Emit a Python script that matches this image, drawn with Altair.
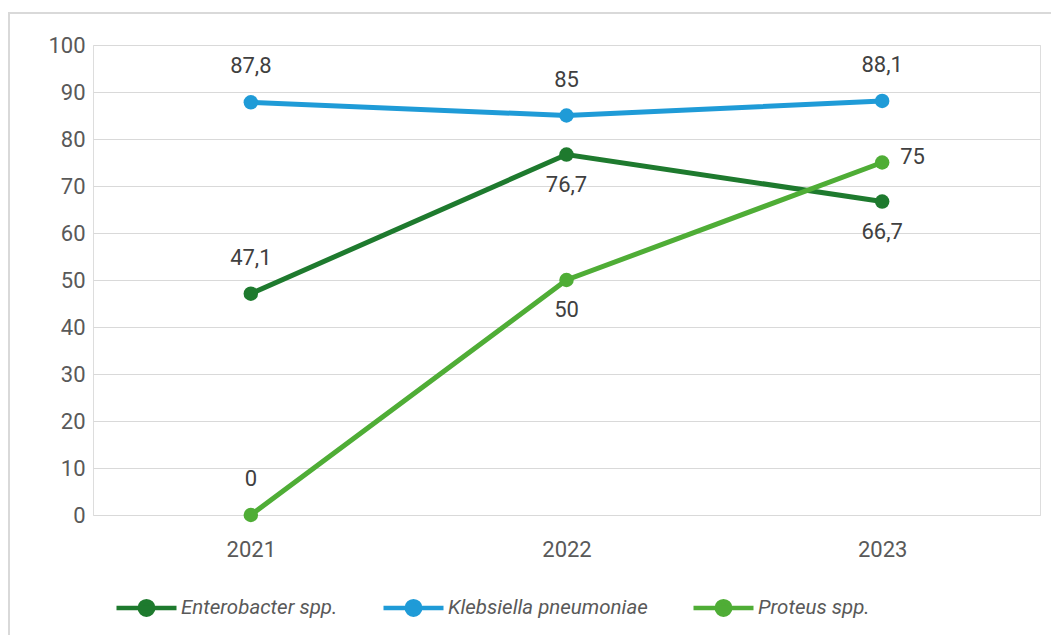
import altair as alt
import pandas as pd

years = ["2021", "2022", "2023"]
enterobacter = [47.1, 76.7, 66.7]
klebsiella = [87.8, 85.0, 88.1]
proteus = [0.0, 50.0, 75.0]
series_names = ["Enterobacter spp.", "Klebsiella pneumoniae", "Proteus spp."]
colors = ["#1e7a2e", "#1f9bd7", "#4fad36"]

# label placement (style, kept apart from the data)
placement = {
    "Enterobacter spp.": ["above", "below", "below"],
    "Klebsiella pneumoniae": ["above", "above", "above"],
    "Proteus spp.": ["above", "below", "right"],
}

rows = []
for name, vals in zip(series_names, [enterobacter, klebsiella, proteus]):
    for i, (yr, v) in enumerate(zip(years, vals)):
        lab = (f"{v:g}").replace(".", ",")
        rows.append({"year": yr, "series": name, "value": v, "label": lab,
                     "pos": placement[name][i]})
df = pd.DataFrame(rows)

FONT = "Roboto"
LEGFONT = "Liberation Sans Narrow, Roboto"
TXT = "#404040"
FS = 22

base = alt.Chart(df).encode(
    x=alt.X("year:N", title=None, sort=years,
            scale=alt.Scale(paddingInner=0, paddingOuter=0.5),
            axis=alt.Axis(labelAngle=0, domain=False, ticks=False, grid=False,
                          labelPadding=24, labelFontSize=FS, labelColor="#595959",
                          labelFont=FONT)),
    y=alt.Y("value:Q", title=None,
            scale=alt.Scale(domain=[0, 100], nice=False),
            axis=alt.Axis(values=list(range(0, 101, 10)), domain=False, ticks=False,
                          gridColor="#d9d9d9", gridWidth=1, labelPadding=8,
                          labelFontSize=FS, labelColor="#595959", labelFont=FONT)),
    color=alt.Color("series:N",
                    scale=alt.Scale(domain=series_names, range=colors),
                    legend=alt.Legend(title=None, orient="none", direction="horizontal",
                                      legendX=36, legendY=545,
                                      symbolType="M-2,0L2,0M0.45,0A0.45,0.45,0,1,1,-0.45,0A0.45,0.45,0,1,1,0.45,0",
                                      symbolSize=900, symbolStrokeWidth=4.5,
                                      labelFontSize=20.5, labelFontStyle="italic",
                                      labelColor="#595959", labelFont=LEGFONT,
                                      labelLimit=0, labelOffset=17, columnPadding=36)),
)

lines = base.mark_line(strokeWidth=5, strokeCap="round")
points = base.mark_circle(size=210, opacity=1)

def labels(pos, dx, dy, align):
    return alt.Chart(df).transform_filter(alt.datum.pos == pos).mark_text(
        dx=dx, dy=dy, align=align, baseline="middle", fontSize=FS,
        color=TXT, font=FONT
    ).encode(x=alt.X("year:N", sort=years), y="value:Q", text="label:N")

lab_above = labels("above", 0, -36, "center")
lab_below = labels("below", 0, 30, "center")
lab_right = labels("right", 18, -6, "left")

border = alt.Chart(df).mark_rect(fill=None, stroke="#d9d9d9", strokeWidth=2).encode(
    x=alt.value(-84), x2=alt.value(1000), y=alt.value(-32), y2=alt.value(640)
)

chart = alt.layer(border, lines, points, lab_above, lab_below, lab_right).properties(
    width=947, height=470,
    autosize=alt.AutoSizeParams(type="none"),
    padding={"left": 85, "top": 37, "right": 11, "bottom": 120},
).configure_view(stroke=None).configure(background="white")

chart.save("out.html", embed_options={"renderer": "svg", "actions": False})
